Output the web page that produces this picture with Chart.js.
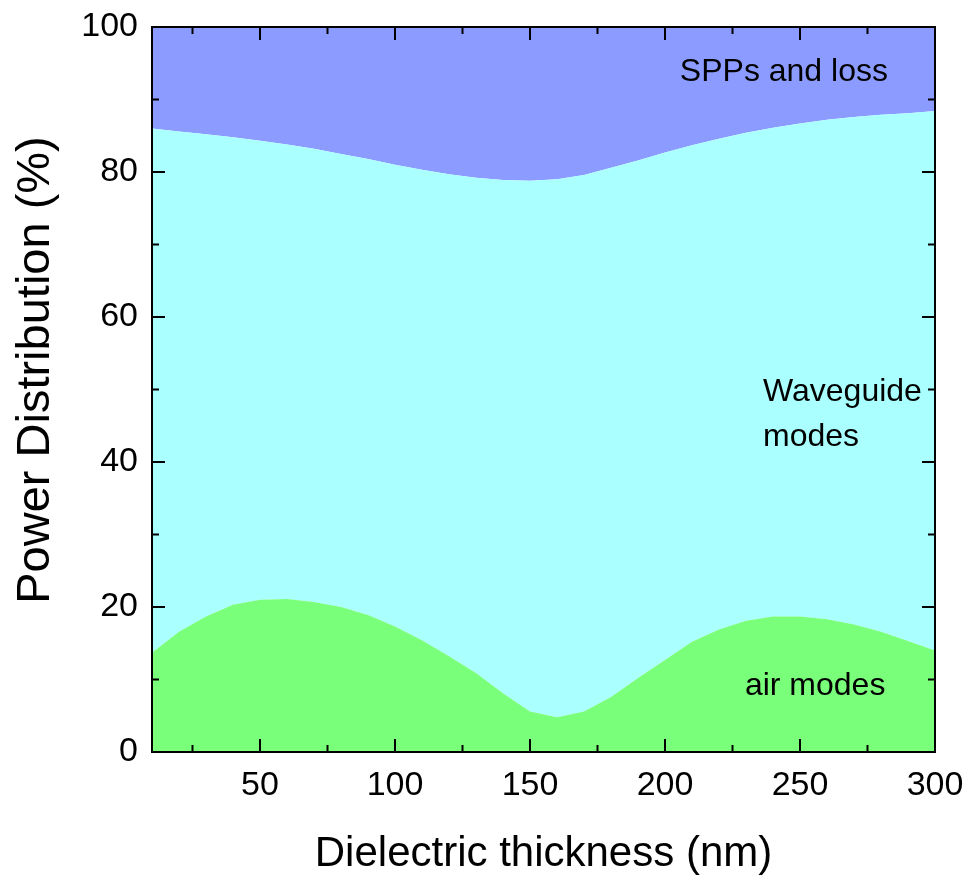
<!DOCTYPE html>
<html>
<head>
<meta charset="utf-8">
<script src="https://cdn.jsdelivr.net/npm/chart.js@4"></script>
<style>
  html, body { margin: 0; padding: 0; background: #fff; }
  #wrap { width: 967px; height: 876px; }
</style>
</head>
<body>
<div id="wrap"><canvas id="chart" width="967" height="876"></canvas></div>
<script>
const thickness = [10, 20, 30, 40, 50, 60, 70, 80, 90, 100, 110, 120, 130, 140, 150,
  160, 170, 180, 190, 200, 210, 220, 230, 240, 250, 260, 270, 280, 290, 300];
// air modes (bottom boundary)
const airModes = [13.7, 16.6, 18.7, 20.3, 21.0, 21.1, 20.7, 20.0, 18.9, 17.3, 15.4, 13.2, 10.9, 8.1, 5.6,
  4.8, 5.6, 7.6, 10.2, 12.7, 15.2, 16.9, 18.1, 18.7, 18.7, 18.3, 17.6, 16.6, 15.3, 14.0];
// air + waveguide modes (upper boundary)
const waveguideTop = [86.0, 85.6, 85.2, 84.8, 84.3, 83.8, 83.2, 82.5, 81.8, 81.0, 80.3, 79.7, 79.2, 78.9, 78.8,
  79.0, 79.6, 80.6, 81.6, 82.7, 83.7, 84.6, 85.4, 86.1, 86.7, 87.2, 87.6, 87.9, 88.1, 88.4];
const totalTop = thickness.map(() => 100);

const xTicks = [50, 100, 150, 200, 250, 300];
const xMinor = [25, 75, 125, 175, 225, 275];
const yTicks = [0, 20, 40, 60, 80, 100];
const yMinor = [10, 30, 50, 70, 90];

const labels = [
  { text: 'SPPs and loss', x: 205.5, y: 93.8 },
  { text: 'Waveguide', x: 236.3, y: 49.7 },
  { text: 'modes', x: 236.3, y: 43.4 },
  { text: 'air modes', x: 229.6, y: 9.1 }
];

const FONT = "'Liberation Sans', Arial, sans-serif";

const toPts = arr => arr.map((v, i) => ({ x: thickness[i], y: v }));

const frame = {
  id: 'frame',
  afterDraw(c) {
    const { ctx, chartArea: a, scales: { x, y } } = c;
    ctx.save();
    ctx.strokeStyle = '#000';
    ctx.lineWidth = 2;
    ctx.strokeRect(a.left, a.top, a.right - a.left, a.bottom - a.top);
    const tick = (vals, len) => {
      vals.forEach(v => {
        const px = x.getPixelForValue(v);
        ctx.beginPath();
        ctx.moveTo(px, a.bottom); ctx.lineTo(px, a.bottom - len);
        ctx.moveTo(px, a.top); ctx.lineTo(px, a.top + len);
        ctx.stroke();
      });
    };
    const ytick = (vals, len) => {
      vals.forEach(v => {
        const py = y.getPixelForValue(v);
        ctx.beginPath();
        ctx.moveTo(a.left, py); ctx.lineTo(a.left + len, py);
        ctx.moveTo(a.right, py); ctx.lineTo(a.right - len, py);
        ctx.stroke();
      });
    };
    tick(xTicks, 13); tick(xMinor, 7);
    ytick(yTicks, 13); ytick(yMinor, 7);

    ctx.fillStyle = '#000';
    ctx.font = '32px ' + FONT;
    ctx.textAlign = 'left';
    ctx.textBaseline = 'middle';
    labels.forEach(l => ctx.fillText(l.text, x.getPixelForValue(l.x), y.getPixelForValue(l.y)));

    // y axis title, a bit above the plot centre as in the original
    ctx.font = '47px ' + FONT;
    ctx.textAlign = 'center';
    ctx.translate(36, 370);
    ctx.rotate(-Math.PI / 2);
    ctx.fillText('Power Distribution (%)', 0, 0);
    ctx.restore();
  }
};

const ctx = document.getElementById('chart').getContext('2d');
new Chart(ctx, {
  type: 'line',
  data: {
    datasets: [
      { label: 'air modes', data: toPts(airModes), fill: 'origin', backgroundColor: '#7aff7a' },
      { label: 'Waveguide modes', data: toPts(waveguideTop), fill: '-1', backgroundColor: '#aaffff' },
      { label: 'SPPs and loss', data: toPts(totalTop), fill: '-1', backgroundColor: '#8c9bff' }
    ].map(d => Object.assign(d, { borderWidth: 0, pointRadius: 0, tension: 0, borderColor: 'rgba(0,0,0,0)' }))
  },
  options: {
    responsive: false,
    animation: false,
    layout: { padding: { top: 27, right: 32, left: 0, bottom: 0 } },
    plugins: { legend: { display: false }, tooltip: { enabled: false } },
    scales: {
      x: {
        type: 'linear',
        min: 10,
        max: 300,
        afterBuildTicks: s => { s.ticks = xTicks.map(v => ({ value: v })); },
        afterFit: s => { s.height = 124; s.paddingLeft = 0; s.paddingRight = 0; },
        grid: { display: false, drawTicks: false },
        border: { display: false },
        ticks: { color: '#000', font: { family: FONT, size: 34 }, padding: 13, maxRotation: 0 },
        title: { display: true, text: 'Dielectric thickness (nm)', color: '#000', font: { family: FONT, size: 42 }, padding: { top: 0, bottom: -4 } }
      },
      y: {
        min: 0,
        max: 100,
        afterBuildTicks: s => { s.ticks = yTicks.map(v => ({ value: v })); },
        afterFit: s => { s.width = 152; s.paddingTop = 0; s.paddingBottom = 0; },
        grid: { display: false, drawTicks: false },
        border: { display: false },
        ticks: { color: '#000', font: { family: FONT, size: 34 }, padding: 14 }
      }
    }
  },
  plugins: [frame]
});
</script>
</body>
</html>
